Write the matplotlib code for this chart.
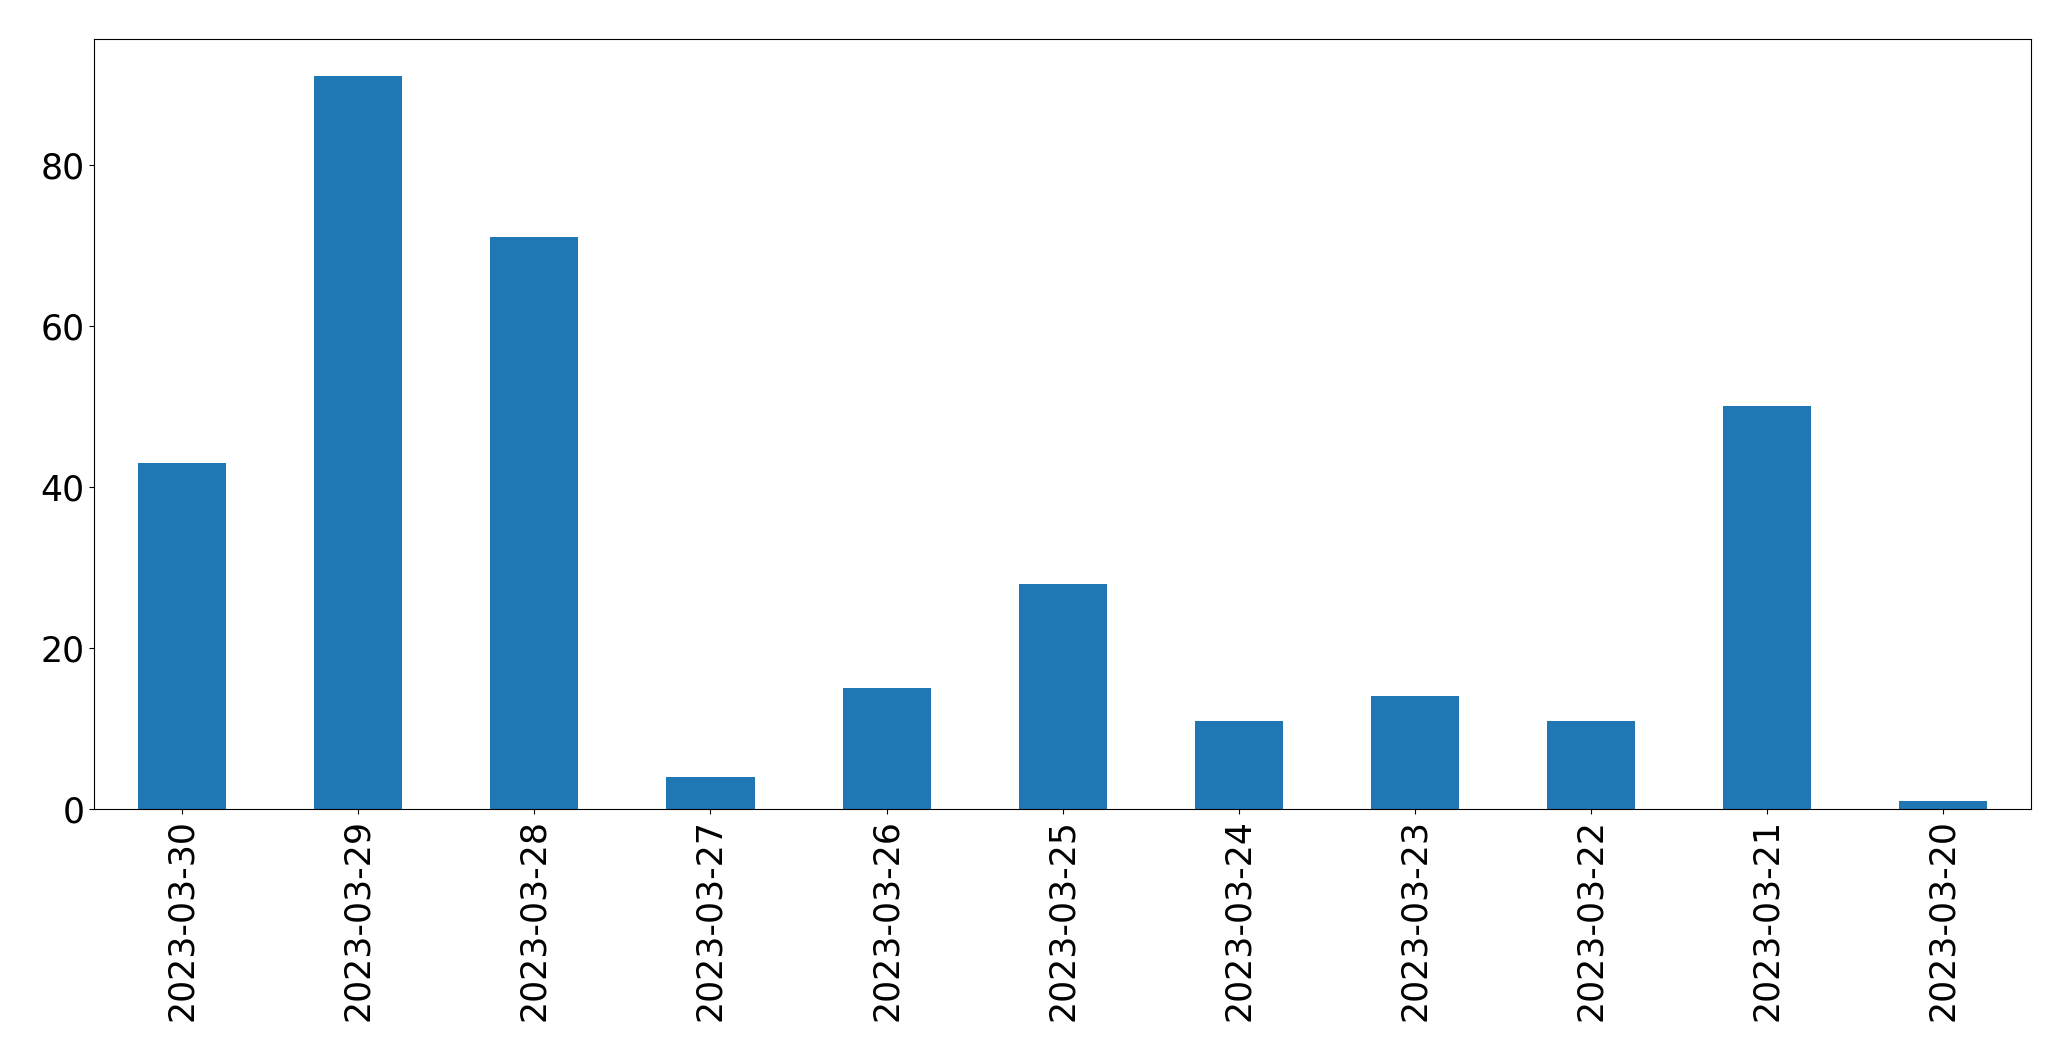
import matplotlib
matplotlib.use("Agg")
import matplotlib.pyplot as plt
import pandas as pd

dates = [
    "2023-03-30", "2023-03-29", "2023-03-28", "2023-03-27", "2023-03-26",
    "2023-03-25", "2023-03-24", "2023-03-23", "2023-03-22", "2023-03-21",
    "2023-03-20",
]
counts = [43, 91, 71, 4, 15, 28, 11, 14, 11, 50, 1]

series = pd.Series(counts, index=dates)

fig, ax = plt.subplots(figsize=(20.71, 10.61), dpi=100)
fig.subplots_adjust(left=0.0455, right=0.9807, top=0.963, bottom=0.2372)
series.plot(kind="bar", ax=ax, color="#1f77b4", fontsize=25)

fig.savefig("out.png", dpi=100)
